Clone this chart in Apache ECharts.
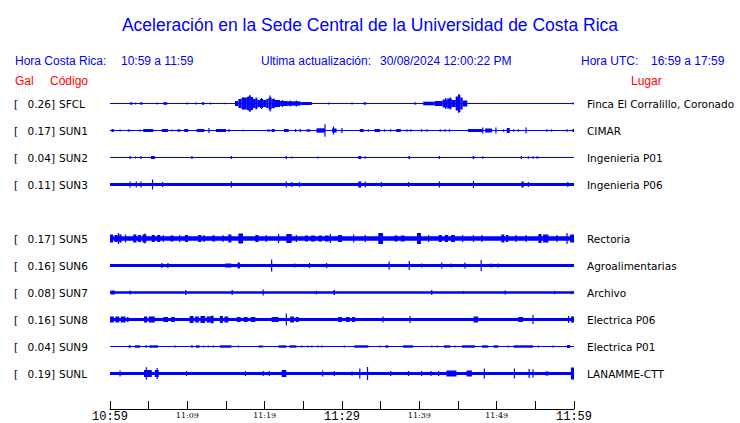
<!DOCTYPE html>
<html>
<head>
<meta charset="utf-8">
<script src="https://cdn.jsdelivr.net/npm/echarts@6/dist/echarts.min.js"></script>
<style>html,body{margin:0;padding:0;background:#fff}#c{width:740px;height:423px}</style>
</head>
<body>
<div id="c"></div>
<script>
// ---- data ----
const titleText = 'Aceleración en la Sede Central de la Universidad de Costa Rica';
const horaCR = '10:59 a 11:59';
const horaUTC = '16:59 a 17:59';
const ultima = '30/08/2024 12:00:22 PM';
const tickLabels = ['10:59','','11:09','','11:19','','11:29','','11:39','','11:49','','11:59'];
const codes = ['SFCL','SUN1','SUN2','SUN3','SUN5','SUN6','SUN7','SUN8','SUN9','SUNL'];
const peakGal = ['0.26','0.17','0.04','0.11','0.17','0.16','0.08','0.16','0.04','0.19'];
const places = ['Finca El Corralillo, Coronado','CIMAR','Ingenieria P01','Ingenieria P06','Rectoria','Agroalimentarias','Archivo','Electrica P06','Electrica P01','LANAMME-CTT'];
// background noise half-amplitude of each trace
const baseAmp = [0.5,0.6,0.5,1.6,2.2,1.5,1.3,1.5,0.5,1.6];
// events: [minute, halfAmp] (spike) or [fromMinute, toMinute, halfAmp] (burst)
const evSFCL = [[2.6,2.9,1.2],[3.3,1],[3.9,4.2,1.2],[6.1,1],[6.9,7.4,1.3],[10.0,1],[11.1,1],[11.9,12.2,1.3],[13.0,1],[14.9,0.8],
 [16.16,16.6,2.5],[16.6,17.0,4.5],[17.0,17.3,5.5],[17.3,17.7,6],[17.7,18.0,6.5],[18.0,18.2,7.8],[18.2,18.5,6.5],[18.5,18.8,4.5],[18.8,19.1,5],[19.1,19.4,3.5],[19.4,19.8,4.5],[19.8,20.2,3.5],[20.2,20.5,4.5],[20.5,20.9,6],[20.7,8],[20.9,21.3,4.5],[21.3,22.0,3.5],[22.0,23.0,2.5],[23.0,24.6,2.2],[24.6,26.1,1.5],
 [17.2,6.5],[17.9,7],[18.1,8.5],[18.9,6],[19.6,5.5],[21.2,5],[22.3,3.5],[23.3,3],[24.1,3],
 [28.3,1],[31.3,1],[32.8,33.1,1.2],[39.3,39.6,1],
 [40.5,42.0,1.8],[42.0,43.0,2.5],[43.0,43.6,4],[43.6,44.2,5],[44.2,44.7,3.5],[44.7,45.0,7],[45.0,45.3,8.5],[45.3,45.6,6],[45.6,46.2,3],[43.4,5.5],[44.0,6],[45.1,9.5],[59.9,1]];
const evSUN1 = [[0.2,0.5,1.5],[1.3,1],[2.3,2.6,1],[3.9,1],[4.3,5.6,1.5],[6.7,7.5,1.5],[8.0,1],[8.7,9.1,1.2],[9.6,10.1,1.5],[11.2,12.2,1.5],[12.8,2.5],[13.7,15.0,1.5],[15.4,1.5],[17.2,0.8],[20.3,20.7,1],[20.9,21.3,1.5],[22.5,23.1,1.5],[24.0,1.5],[24.6,1.5],[25.4,25.9,1.2],[26.7,27.8,2.2],[27.8,6.2],[28.7,29.3,2],[28.9,4],[30.0,2.5],[32.3,32.8,1.5],[33.4,1.2],[34.2,34.9,1.5],[35.5,1.2],[36.3,1.2],[37.0,37.6,1.5],[38.4,1.2],[38.9,1.2],[40.3,1.2],[41.0,1.2],[42.7,1.2],[43.3,1.2],[43.9,1.2],[46.3,48.1,1.5],[48.2,3],[48.5,49.4,2],[49.9,3],[50.9,1.2],[51.3,51.7,2.5],[52.2,1.2],[52.8,1.2],[53.8,3],[56.5,1.2],[57.1,1.2],[59.1,1.2],[59.8,60,1.5]];
const evSUN2 = [[2.6,1.5],[3.3,1],[4.0,1.5],[5.3,5.8,1.5],[10.6,1.5],[15.7,1.5],[22.8,1.5],[23.5,1],[26.9,1],[32.1,32.5,1.5],[33.0,1.2],[38.6,38.8,1.5],[42.6,1.5],[46.9,47.1,1.5],[48.2,1.2],[53.2,1.5],[54.1,1.2],[54.7,1.2],[55.1,55.4,1]];
const evSUN3 = [[2.6,3],[3.4,3],[4.0,3],[5.5,5],[6.8,2.5],[15.7,3],[22.8,3],[23.5,2.5],[24.5,2.5],[32.1,32.5,3],[33.0,3],[35.1,2.5],[38.6,2.5],[42.6,3],[47.0,3.5],[53.2,53.5,3],[54.1,2.5],[59.2,2.5]];
const evSUN5 = [[0,0.4,4],[0.6,1.0,3.5],[1.1,5.5],[1.2,1.5,4],[2.0,4],[3.0,3.4,4],[3.6,4.0,3.5],[4.2,4.7,4],[4.5,5],[5.4,5.8,3.5],[6.1,6.5,3.5],[6.9,3.5],[7.8,8.2,3],[9.0,3.5],[9.7,10.1,3.5],[11.4,11.8,3.5],[12.0,12.3,3],[13.2,13.6,3],[14.6,3.5],[15.3,15.7,4],[16.6,17.2,5],[18.8,19.2,3.5],[20.2,3.5],[21.8,4.5],[22.8,23.5,4.5],[24.1,3.5],[25.2,25.6,3],[26.0,26.5,3],[27.0,27.4,3],[27.8,28.3,3],[28.5,4.5],[29.5,30.0,3.5],[31.5,4],[33.0,3.5],[34.7,35.3,5.5],[36.8,37.2,3],[37.6,38.1,3],[39.7,40.2,5.5],[41.2,3.5],[42.5,42.9,3.5],[43.3,43.7,3.5],[44.1,44.6,3.5],[45.6,3.5],[47.0,3.5],[48.1,3.5],[50.6,51.0,4],[51.2,51.5,3.5],[52.5,3.5],[53.8,3.5],[55.4,55.8,4.5],[56.0,56.7,4],[57.8,3.5],[59.1,5.5],[59.5,60,4]];
const evSUN6 = [[6.7,2.5],[7.5,2.5],[14.9,15.7,2],[16.5,16.8,3],[20.9,6],[23.9,2],[25.8,2.5],[28.0,2.5],[36.1,4],[38.7,4.5],[40.3,2],[42.9,3],[44.1,2],[45.9,3],[48.0,5.5],[49.3,2],[50.2,2]];
const evSUN7 = [[0.1,0.6,2],[2.6,2],[9.8,2.5],[15.8,2.5],[19.8,3],[26.7,1.8],[28.9,29.1,2.5],[41.6,2.5],[45.7,1.5],[51.1,2],[57.5,1.8],[59.7,1.8]];
const evSUN8 = [[0,0.5,3],[0.7,1.2,3],[1.4,2.0,3],[2.2,2.4,2.5],[4.4,4.8,3],[5.0,5.8,3],[6.9,7.5,2.5],[7.9,8.4,2.5],[10.3,10.8,3.5],[11.0,11.5,3],[11.7,12.3,3.5],[12.5,13.0,3],[13.0,13.4,3.5],[13.2,4],[14.2,14.6,3.5],[14.8,15.3,3],[16.4,16.9,2.5],[17.3,17.8,2.5],[18.2,18.8,2.5],[20.9,21.8,2.5],[22.8,6],[23.3,23.8,3],[24.0,24.4,2.5],[29.5,30.0,2.5],[30.5,31.0,2.5],[31.3,31.7,2.5],[35.3,3],[38.8,3.5],[47.0,47.6,3],[52.8,53.4,2.5],[54.7,4.5],[59.3,3.5],[59.6,60,3]];
const evSUN9 = [[2.4,2.7,1.2],[3.2,3.9,1.2],[4.5,4.8,1],[5.1,6.2,1.2],[8.4,1],[10.5,10.7,1.2],[11.1,11.6,1.2],[12.1,1],[12.7,1],[13.4,1],[14.2,15.7,1.2],[16.6,1],[19.2,19.8,1],[21.8,22.8,1.2],[23.2,24.1,1.2],[24.8,1],[25.6,1],[26.1,1],[26.9,1],[27.4,1],[30.3,1],[31.6,33.4,1.2],[34.9,1],[35.6,36.0,1.2],[37.9,39.2,1.2],[41.6,1],[42.3,1],[43.2,44.0,1.2],[44.6,1],[45.5,47.2,1.2],[48.1,48.9,1.2],[49.6,50.2,1.2],[51.5,1],[52.2,54.7,1.2],[55.4,1],[57.3,1],[59.1,59.5,1.5]];
const evSUNL = [[1.3,3],[4.4,5.4,3.5],[4.7,6.3],[5.8,6.3,3.5],[6.1,5.5],[9.9,2.5],[17.5,2.5],[19.8,2.5],[20.6,2.5],[22.2,22.8,3.5],[27.5,3],[29.0,2.5],[31.3,2],[32.3,5],[33.3,6.5],[36.3,2.5],[38.6,2.5],[40.3,2.5],[41.5,2.5],[42.5,2.5],[43.5,44.8,3],[46.1,46.8,3],[48.4,5],[52.3,5],[54.2,4.5],[54.7,4],[56.3,56.7,2],[59.6,60,6]];
const events = [evSFCL,evSUN1,evSUN2,evSUN3,evSUN5,evSUN6,evSUN7,evSUN8,evSUN9,evSUNL];

// ---- chart ----
const BLUE = '#0000ff', RED = '#ff0000';
const ROW = 27;
const rowOf = i => (i < 4 ? i : i + 1);
const chart = echarts.init(document.getElementById('c'), null, {renderer: 'svg'});

function traceRender(base) {
  return function (params, api) {
    const t0 = api.value(0), t1 = api.value(1), a = api.value(2);
    const p0 = api.coord([t0, base + a]);
    const p1 = api.coord([t1, base - a]);
    let w = p1[0] - p0[0];
    let x = p0[0];
    if (w < 1.2) { x = x - 0.6; w = 1.2; }
    const h = Math.max(1, p1[1] - p0[1]);
    return {type: 'rect', shape: {x: x, y: (p0[1] + p1[1]) / 2 - h / 2, width: w, height: h}, style: {fill: BLUE}};
  };
}

const series = [];
codes.forEach((c, i) => {
  const base = -rowOf(i) * ROW;
  const data = [[0, 60, baseAmp[i]]].concat(events[i].map(e => e.length === 2 ? [e[0], e[0], e[1]] : e));
  series.push({type: 'custom', silent: true, renderItem: traceRender(base), data: data, encode: {x: [0, 1], y: 2}, clip: false});
});

function txt(text, x, y, color, size, align, family) {
  return {type: 'text', x: 0, y: 0, style: {text: text, x: x, y: y, fill: color, font: size + 'px ' + (family || '"Liberation Sans", Arial, sans-serif'), textAlign: align || 'left', align: align || 'left', textVerticalAlign: 'middle', verticalAlign: 'middle'}};
}
// station labels
series.push({
  type: 'custom', silent: true, clip: false,
  data: codes.map((c, i) => [0, -rowOf(i) * ROW, i]),
  encode: {x: 0, y: 1},
  renderItem: function (params, api) {
    const i = api.value(2);
    const y = api.coord([0, api.value(1)])[1];
    const f = '"DejaVu Sans", sans-serif';
    return {type: 'group', children: [
      txt('[', 14, y, '#000', 10.5, 'left', f),
      txt(peakGal[i] + ']', 55, y, '#000', 10.5, 'right', f),
      txt(codes[i], 59, y, '#000', 10.5, 'left', f),
      txt(places[i], 587, y, '#000', 10.5, 'left', f)
    ]};
  }
});

chart.setOption({
  animation: false,
  backgroundColor: '#fff',
  title: {text: titleText, left: 'center', top: 11, textStyle: {color: BLUE, fontSize: 17.5, fontWeight: 'normal', fontFamily: '"Liberation Sans", Arial, sans-serif'}},
  grid: {left: 110, right: 166, top: 90, bottom: 14},
  xAxis: {
    type: 'value', min: 0, max: 60, interval: 5,
    splitLine: {show: false},
    axisLine: {onZero: false, lineStyle: {color: '#000', width: 1}},
    axisTick: {inside: true, length: 8, lineStyle: {color: '#000'}},
    axisLabel: {
      margin: 1, interval: 0, fontWeight: 'normal',
      formatter: v => { const k = Math.round(v / 5); const s = tickLabels[k] || ''; if (!s) return ''; return (k % 6 === 0 ? '{b|' : '{s|') + s + '}'; },
      rich: {
        b: {fontSize: 12, fontFamily: '"Liberation Mono", monospace', fontWeight: 'normal', color: '#000', lineHeight: 13},
        s: {fontSize: 8, fontFamily: '"DejaVu Serif", serif', fontWeight: 'normal', color: '#000', lineHeight: 10}
      }
    }
  },
  yAxis: {type: 'value', min: -305.5, max: 13.5, show: false, splitLine: {show: false}},
  graphic: [
    txt('Hora Costa Rica:', 15, 61, BLUE, 12),
    txt(horaCR, 121, 61, BLUE, 12),
    txt('Ultima actualización:', 261, 61, BLUE, 12),
    txt(ultima, 380, 61, BLUE, 12),
    txt('Hora UTC:', 581, 61, BLUE, 12),
    txt(horaUTC, 651, 61, BLUE, 12),
    txt('Gal', 15, 81, RED, 12),
    txt('Código', 50, 81, RED, 12),
    txt('Lugar', 631, 81, RED, 12)
  ],
  series: series
});
</script>
</body>
</html>
